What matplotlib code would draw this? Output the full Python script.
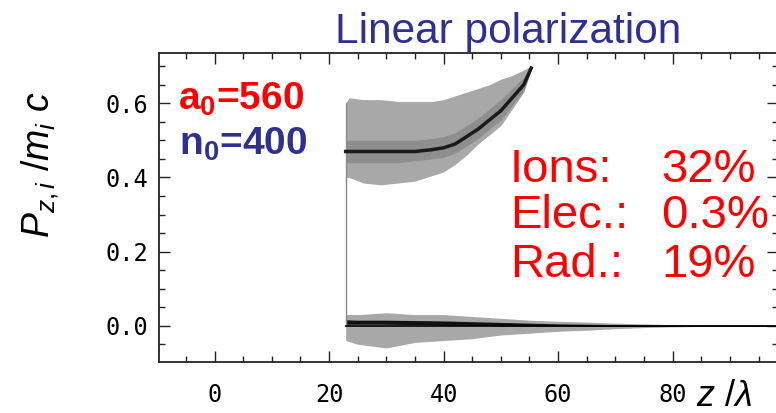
import matplotlib
matplotlib.use("Agg")
import matplotlib.pyplot as plt
from matplotlib.ticker import MultipleLocator

plt.rcParams['font.family'] = ['Liberation Sans', 'DejaVu Sans']
plt.rcParams['mathtext.fontset'] = 'custom'
plt.rcParams['mathtext.rm'] = 'Liberation Sans'
plt.rcParams['mathtext.it'] = 'Liberation Sans:italic'
plt.rcParams['mathtext.bf'] = 'Liberation Sans:bold'

# fast ion bunch (upper blob)
z_hi = [22.9, 23.5, 26, 29, 32, 35, 38, 40, 42, 44, 46, 48, 50, 52, 54, 55.3]
hi_top = [0.60, 0.615, 0.61, 0.61, 0.605, 0.605, 0.605, 0.61, 0.62, 0.63, 0.64, 0.65, 0.665, 0.675, 0.69, 0.70]
hi_in_top = [0.50, 0.50, 0.50, 0.50, 0.50, 0.50, 0.505, 0.51, 0.52, 0.54, 0.56, 0.585, 0.61, 0.64, 0.67, 0.70]
hi_core = [0.47, 0.47, 0.47, 0.47, 0.47, 0.47, 0.475, 0.48, 0.49, 0.51, 0.53, 0.555, 0.58, 0.615, 0.65, 0.695]
hi_in_bot = [0.44, 0.44, 0.44, 0.44, 0.44, 0.445, 0.45, 0.455, 0.465, 0.485, 0.505, 0.53, 0.555, 0.595, 0.635, 0.69]
hi_bot = [0.40, 0.40, 0.385, 0.38, 0.385, 0.39, 0.405, 0.415, 0.435, 0.46, 0.49, 0.515, 0.54, 0.585, 0.63, 0.69]

# slow ions near Pz = 0
z_lo = [22.9, 25, 30, 35, 40, 45, 50, 55, 60, 65, 70, 75, 80, 85, 100]
lo_top = [0.030, 0.030, 0.035, 0.030, 0.030, 0.025, 0.020, 0.015, 0.012, 0.010, 0.007, 0.005, 0.003, 0.002, 0.0]
lo_dark_top = [0.016, 0.015, 0.015, 0.014, 0.013, 0.011, 0.009, 0.007, 0.005, 0.004, 0.003, 0.002, 0.002, 0.002, 0.002]
lo_dark_bot = [0.004, 0.004, 0.004, 0.003, 0.002, 0.001, 0.0, -0.001, -0.001, -0.002, -0.002, -0.002, -0.002, -0.002, -0.002]
lo_bot = [-0.040, -0.050, -0.060, -0.045, -0.040, -0.035, -0.025, -0.020, -0.015, -0.012, -0.008, -0.005, -0.003, -0.002, 0.0]

# thin vertical stripe at the target front
front_z = 22.9
front_p = [0.0, 0.60]

fig = plt.figure(figsize=(7.76, 4.13), dpi=100)
ax = fig.add_axes([159 / 776, 1 - 361.7 / 413, 619 / 776, 309 / 413])

ax.plot([front_z, front_z], front_p, color='#8a8a8a', lw=1.0)

ax.fill_between(z_hi, hi_bot, hi_top, color='#a8a8a8', lw=0)
ax.fill_between(z_hi, hi_in_bot, hi_in_top, color='#8e8e8e', lw=0)
ax.plot(z_hi, hi_core, color='#1a1a1a', lw=2.5)

ax.fill_between(z_lo, lo_bot, lo_top, color='#a8a8a8', lw=0)
ax.fill_between(z_lo, lo_dark_bot, lo_dark_top, color='#111111', lw=0)
ax.plot(z_lo, [0] * len(z_lo), color='black', lw=1.2)

ax.set_xlim(-9.7, 98.4)
ax.set_ylim(-0.097, 0.7365)
ax.xaxis.set_major_locator(MultipleLocator(20))
ax.xaxis.set_minor_locator(MultipleLocator(5))
ax.yaxis.set_major_locator(MultipleLocator(0.2))
ax.yaxis.set_minor_locator(MultipleLocator(0.05))
ax.yaxis.set_major_formatter(lambda v, p: f"{v:.1f}")
ax.tick_params(which='both', direction='in', top=True, right=True, width=1.0, color='#222222')
ax.tick_params(which='major', length=8)
ax.tick_params(which='minor', length=4)
ax.tick_params(axis='x', pad=15)
ax.tick_params(axis='y', pad=8)
for lab in ax.get_xticklabels() + ax.get_yticklabels():
    lab.set_family('DejaVu Sans Mono')
    lab.set_fontsize(17)
for s in ax.spines.values():
    s.set_linewidth(1.3)
    s.set_color('#222222')

# labels and annotations
fig.text(508 / 776, 1 - 43.5 / 413, 'Linear polarization', color='#2e3192',
         fontsize=30.5, ha='center', va='baseline')
fig.text(40 / 776, 1 - 165 / 413, r'$P_{z,i}\ /m_i\ c$', rotation=90,
         fontsize=27, ha='center', va='center')
fig.text(724 / 776, 1 - 396 / 413, r'$z\ /\lambda$', fontsize=26,
         ha='center', va='center')

fig.text(178 / 776, 1 - 110 / 413, r'a$_\mathbf{0}$=560', color='#ff0000',
         fontsize=28, fontweight='bold', ha='left', va='baseline')
fig.text(179 / 776, 1 - 155 / 413, r'n$_\mathbf{0}$=400', color='#2e3192',
         fontsize=28, fontweight='bold', ha='left', va='baseline')

rows = ['Ions:', 'Elec.:', 'Rad.:']
values = ['32%', '0.3%', '19%']
baselines = [182, 228, 277]
for r, v, b in zip(rows, values, baselines):
    fig.text(510 / 776, 1 - b / 413, r, color='#ff0000', fontsize=34,
             ha='left', va='baseline')
    fig.text(661 / 776, 1 - b / 413, v, color='#ff0000', fontsize=34,
             ha='left', va='baseline')

fig.savefig('out.png', dpi=100)
